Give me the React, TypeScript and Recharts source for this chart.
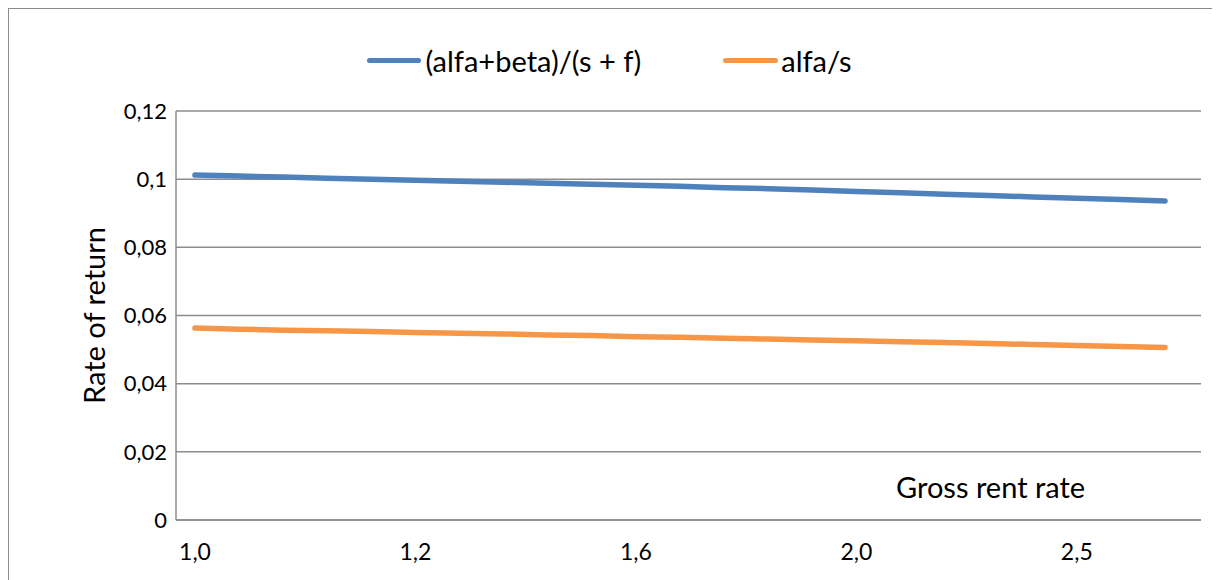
import React from "react";
import { LineChart, Line, XAxis, YAxis, CartesianGrid } from "recharts";

const categories = ["1,0","1,04","1,08","1,12","1,16","1,2","1,28","1,36","1,44","1,52","1,6","1,68","1,76","1,84","1,92","2,0","2,1","2,2","2,3","2,4","2,5","2,6","2,7"];
const blueValues = [0.1012,0.1009,0.1006,0.1003,0.1000,0.0997,0.0994,0.0991,0.0988,0.0985,0.0982,0.0979,0.0975,0.0972,0.0968,0.0964,0.0960,0.0956,0.0952,0.0948,0.0944,0.0940,0.0936];
const orangeValues = [0.0563,0.0560,0.0557,0.0555,0.0553,0.0550,0.0548,0.0546,0.0543,0.0541,0.0538,0.0536,0.0533,0.0531,0.0528,0.0526,0.0523,0.0521,0.0518,0.0515,0.0512,0.0509,0.0506];
const yTicks = [0, 0.02, 0.04, 0.06, 0.08, 0.1, 0.12];
const seriesNames = ["(alfa+beta)/(s + f)", "alfa/s"];

const data = categories.map((c, i) => ({ cat: c, a: blueValues[i], b: orangeValues[i] }));

const FONT = "Lato, 'Open Sans', sans-serif";
const BLUE = "#4F81BD";
const ORANGE = "#F79646";
const GRID = "#8c8c8c";

const fmt = (v: number) => String(Number(v.toFixed(2))).replace(".", ",");

export default function App() {
  return (
    <div style={{ position: "relative", width: 1209, height: 590, border: "1.5px solid #8c8c8c", boxSizing: "border-box", background: "#fff" }}>
      <div style={{ position: "absolute", left: -4, top: 34, width: 1209, display: "flex", justifyContent: "center", alignItems: "center", fontFamily: FONT, fontSize: 29, color: "#000" }}>
        <span style={{ display: "inline-block", width: 54, height: 5, background: BLUE, borderRadius: 3, marginRight: 4 }} />
        <span style={{ marginRight: 82 }}>{seriesNames[0]}</span>
        <span style={{ display: "inline-block", width: 55, height: 5, background: ORANGE, borderRadius: 3, marginRight: 3 }} />
        <span>{seriesNames[1]}</span>
      </div>
      <LineChart width={1206} height={587} data={data} margin={{ top: 102, right: 14, bottom: 20, left: 60 }}>
        <CartesianGrid vertical={false} horizontal={true} stroke={GRID} strokeWidth={1.5} />
        <XAxis
          dataKey="cat"
          interval={4}
          padding={{ left: 19, right: 36 }}
          tickLine={false}
          axisLine={{ stroke: GRID, strokeWidth: 1.5 }}
          tick={{ fontFamily: FONT, fontSize: 23, fill: "#000" }}
          tickMargin={18}
          height={56}
        />
        <YAxis
          domain={[0, 0.12]}
          ticks={yTicks}
          tickFormatter={fmt}
          tickLine={false}
          axisLine={{ stroke: GRID, strokeWidth: 1.5 }}
          tick={{ fontFamily: FONT, fontSize: 22, fill: "#000" }}
          tickMargin={3}
          width={107}
          label={{ value: "Rate of return", angle: -90, position: "insideLeft", offset: 26, style: { fontFamily: FONT, fontSize: 29, fill: "#000", textAnchor: "middle" } }}
        />
        <Line type="linear" dataKey="a" name={seriesNames[0]} stroke={BLUE} strokeWidth={5.5} strokeLinecap="round" dot={false} isAnimationActive={false} />
        <Line type="linear" dataKey="b" name={seriesNames[1]} stroke={ORANGE} strokeWidth={5.5} strokeLinecap="round" dot={false} isAnimationActive={false} />
      </LineChart>
      <div style={{ position: "absolute", left: 887, top: 460, fontFamily: FONT, fontSize: 29, color: "#000" }}>Gross rent rate</div>
    </div>
  );
}
